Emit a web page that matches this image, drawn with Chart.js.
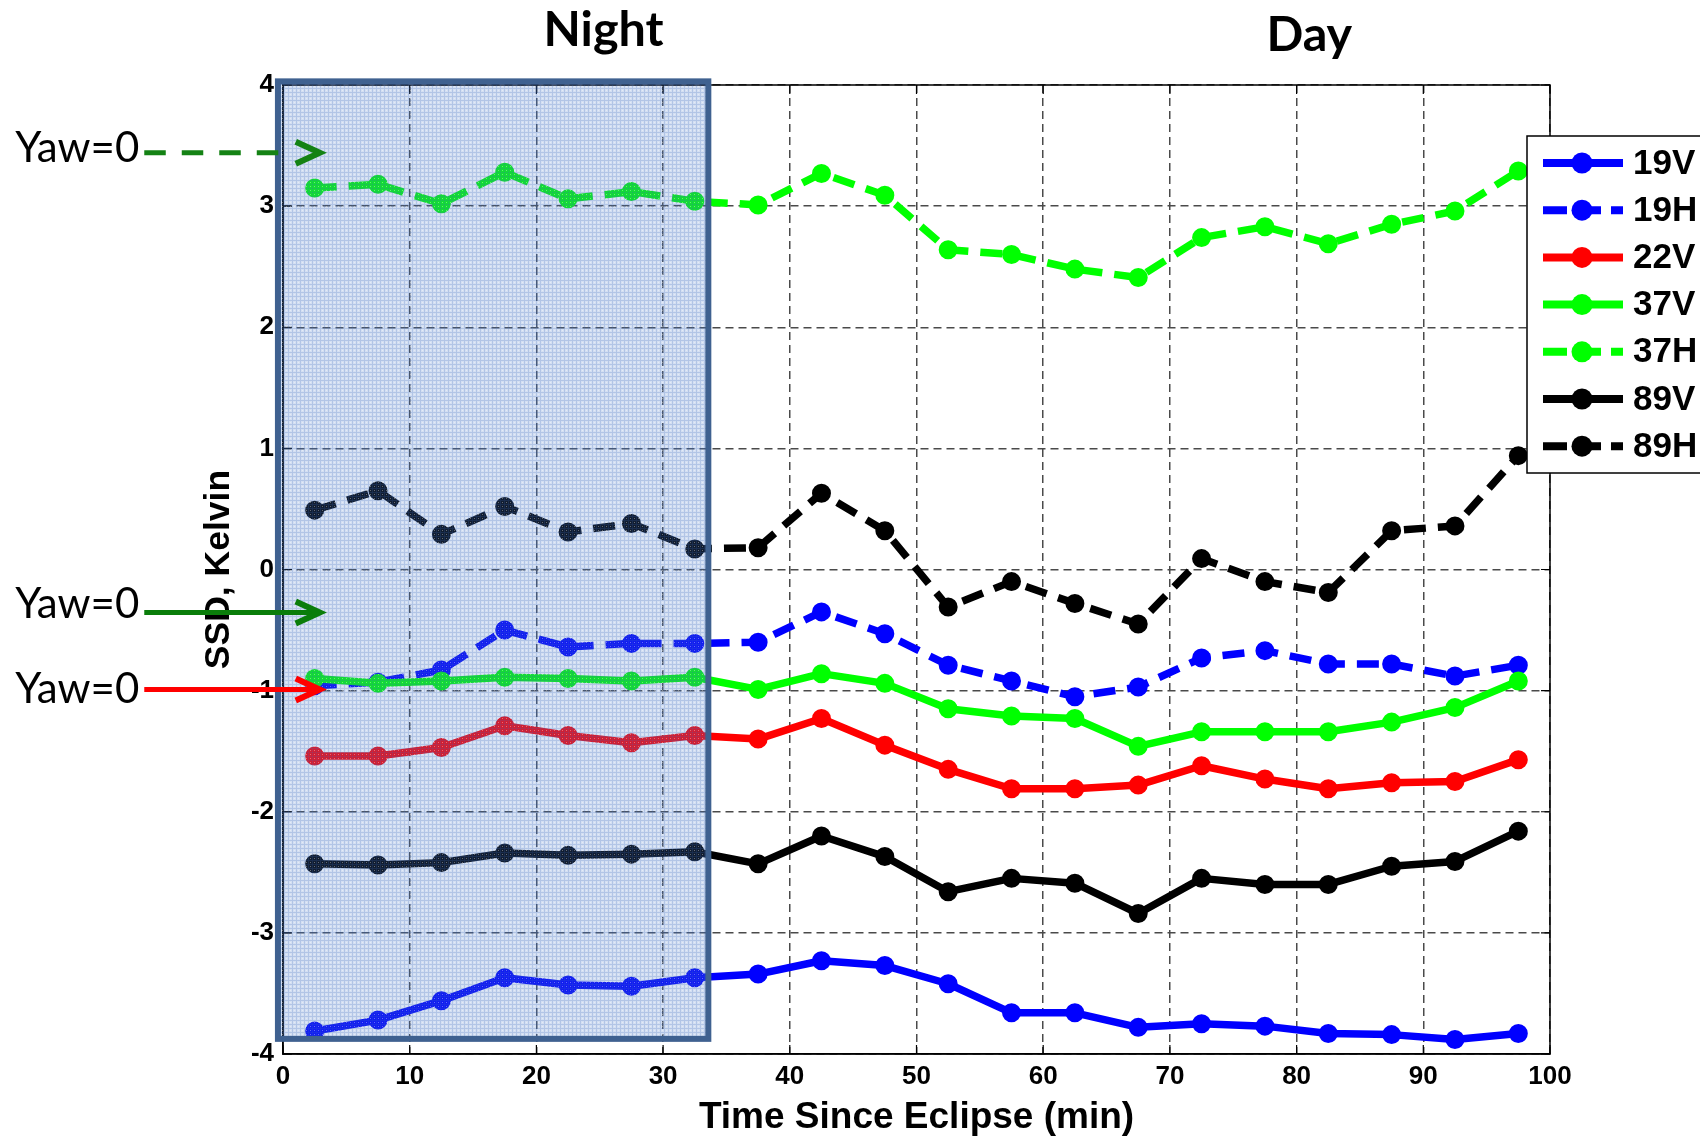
<!DOCTYPE html>
<html>
<head>
<meta charset="utf-8">
<script src="https://cdn.jsdelivr.net/npm/chart.js@4.4.1/dist/chart.umd.min.js"></script>
<style>
  html, body { margin: 0; padding: 0; background: #fff; }
  #wrap { width: 1700px; height: 1137px; position: relative; }
</style>
</head>
<body>
<div id="wrap"><canvas id="c" width="1700" height="1137"></canvas></div>
<script>
// Time since eclipse (min) at which each SSD sample is taken
const minutes = [2.5, 7.5, 12.5, 17.5, 22.5, 27.5, 32.5, 37.5, 42.5, 47.5,
                 52.5, 57.5, 62.5, 67.5, 72.5, 77.5, 82.5, 87.5, 92.5, 97.5];

// SSD per channel, Kelvin
const ssd19V = [-3.81, -3.72, -3.56, -3.37, -3.43, -3.44, -3.37, -3.34, -3.23, -3.27,
                -3.42, -3.66, -3.66, -3.78, -3.75, -3.77, -3.83, -3.84, -3.88, -3.83];
const ssd19H = [-0.96, -0.93, -0.83, -0.50, -0.64, -0.61, -0.61, -0.60, -0.35, -0.53,
                -0.79, -0.92, -1.05, -0.97, -0.73, -0.67, -0.78, -0.78, -0.88, -0.79];
const ssd22V = [-1.54, -1.54, -1.47, -1.29, -1.37, -1.43, -1.37, -1.40, -1.23, -1.45,
                -1.65, -1.81, -1.81, -1.78, -1.62, -1.73, -1.81, -1.76, -1.75, -1.57];
const ssd37V = [-0.90, -0.94, -0.92, -0.89, -0.90, -0.92, -0.89, -0.99, -0.86, -0.94,
                -1.15, -1.21, -1.23, -1.46, -1.34, -1.34, -1.34, -1.26, -1.14, -0.92];
const ssd37H = [3.15, 3.18, 3.02, 3.28, 3.06, 3.12, 3.04, 3.01, 3.27, 3.09,
                2.64, 2.60, 2.48, 2.41, 2.74, 2.83, 2.69, 2.85, 2.96, 3.29];
const ssd89V = [-2.43, -2.44, -2.42, -2.34, -2.36, -2.35, -2.33, -2.43, -2.20, -2.37,
                -2.66, -2.55, -2.59, -2.84, -2.55, -2.60, -2.60, -2.45, -2.41, -2.16];
const ssd89H = [0.49, 0.65, 0.29, 0.52, 0.31, 0.38, 0.17, 0.18, 0.63, 0.32,
                -0.31, -0.10, -0.28, -0.45, 0.09, -0.10, -0.19, 0.32, 0.36, 0.94];

const channelNames = ['19V', '19H', '22V', '37V', '37H', '89V', '89H'];
const channelValues = [ssd19V, ssd19H, ssd22V, ssd37V, ssd37H, ssd89V, ssd89H];

const xTitle = 'Time Since Eclipse (min)';
const yTitle = 'SSD, Kelvin';
const phaseLabels = ['Night', 'Day'];
const yawLabel = 'Yaw=0';

// styling per channel
const channelColors = ['#0000ff', '#0000ff', '#ff0000', '#00ff00', '#00ff00', '#000000', '#000000'];
const channelDashed = [false, true, false, false, true, false, true];

// shaded night band and annotation placement, in axis units
const nightBand = { xFrom: -0.4, xTo: 33.57, yFrom: -3.875, yTo: 4.03 };
const phasePos = [{ x: 25.3, py: 46 }, { x: 81.0, py: 51 }];
const yawMarks = [
  { y: 3.44,  ty: 3.48,  color: '#148214', dashed: true },
  { y: -0.355, ty: -0.29, color: '#0a7d0a', dashed: false },
  { y: -0.99, ty: -0.99, color: '#ff0000', dashed: false }
];

const DASH = [22, 12];
const tickFont = { family: '"Liberation Sans", Arial, sans-serif', size: 26, weight: 'bold' };

function makeHatch() {
  const c = document.createElement('canvas');
  c.width = 4; c.height = 4;
  const g = c.getContext('2d');
  g.fillStyle = 'rgba(70,120,200,0.24)';
  g.fillRect(0, 0, 4, 4);
  g.fillStyle = 'rgba(60,105,185,0.22)';
  g.fillRect(0, 0, 4, 1);
  g.fillRect(0, 1, 1, 3);
  g.fillStyle = 'rgba(255,255,255,0.35)';
  g.fillRect(2, 2, 1, 1);
  return c;
}

const datasets = channelNames.map((name, i) => ({
  label: name,
  data: minutes.map((m, k) => ({ x: m, y: channelValues[i][k] })),
  borderColor: channelColors[i],
  backgroundColor: channelColors[i],
  borderWidth: 7.5,
  borderDash: channelDashed[i] ? DASH : [],
  borderCapStyle: 'butt',
  borderJoinStyle: 'round',
  pointRadius: 8.5,
  pointBorderWidth: 2,
  pointBackgroundColor: channelColors[i],
  pointBorderColor: channelColors[i],
  fill: false,
  tension: 0,
  order: channelNames.length - i
}));

const decorations = {
  id: 'decorations',
  afterDatasetsDraw(chart) {
    const { ctx, chartArea: a, scales: { x, y } } = chart;
    ctx.save();
    // axes box
    ctx.setLineDash([]);
    ctx.strokeStyle = '#000';
    ctx.lineWidth = 1.5;
    ctx.strokeRect(a.left, a.top, a.right - a.left, a.bottom - a.top);
    // inward tick marks on all four sides
    ctx.lineWidth = 1.2;
    ctx.beginPath();
    for (let v = 0; v <= 100; v += 10) {
      const px = x.getPixelForValue(v);
      ctx.moveTo(px, a.bottom); ctx.lineTo(px, a.bottom - 9);
      ctx.moveTo(px, a.top); ctx.lineTo(px, a.top + 9);
    }
    for (let v = -4; v <= 4; v += 1) {
      const py = y.getPixelForValue(v);
      ctx.moveTo(a.left, py); ctx.lineTo(a.left + 9, py);
      ctx.moveTo(a.right, py); ctx.lineTo(a.right - 9, py);
    }
    ctx.stroke();

    // night band
    const L = x.getPixelForValue(nightBand.xFrom);
    const R = x.getPixelForValue(nightBand.xTo);
    const T = y.getPixelForValue(nightBand.yTo);
    const B = y.getPixelForValue(nightBand.yFrom);
    ctx.fillStyle = ctx.createPattern(makeHatch(), 'repeat');
    ctx.fillRect(L, T, R - L, B - T);
    ctx.strokeStyle = '#3f6190';
    ctx.lineWidth = 6;
    ctx.strokeRect(L, T, R - L, B - T);
    ctx.restore();
  },
  afterDraw(chart) {
    const { ctx, scales: { x, y } } = chart;
    ctx.save();

    // phase headings
    ctx.fillStyle = '#000';
    ctx.font = 'bold 48.5px Lato, "Open Sans", sans-serif';
    ctx.textAlign = 'center';
    ctx.textBaseline = 'alphabetic';
    phaseLabels.forEach((t, i) => {
      ctx.fillText(t, x.getPixelForValue(phasePos[i].x), phasePos[i].py);
    });

    // yaw markers with arrows
    const shaftStart = x.getPixelForValue(-10.95);
    const tip = x.getPixelForValue(2.9);
    yawMarks.forEach(m => {
      const py = y.getPixelForValue(m.y);
      const ty = y.getPixelForValue(m.ty);
      ctx.fillStyle = '#000';
      ctx.font = '42px Lato, "Open Sans", sans-serif';
      ctx.textAlign = 'right';
      ctx.textBaseline = 'middle';
      ctx.fillText(yawLabel, shaftStart - 5, ty);

      ctx.strokeStyle = m.color;
      ctx.lineWidth = 5;
      ctx.lineCap = 'butt';
      ctx.setLineDash(m.dashed ? [21.5, 16] : []);
      ctx.beginPath();
      ctx.moveTo(shaftStart, py);
      ctx.lineTo(m.dashed ? tip - 32 : tip - 3, py);
      ctx.stroke();
      ctx.setLineDash([]);
      ctx.lineJoin = 'miter';
      ctx.lineWidth = 6;
      ctx.beginPath();
      ctx.moveTo(tip - 24, py - 11);
      ctx.lineTo(tip, py);
      ctx.lineTo(tip - 24, py + 11);
      ctx.stroke();
    });

    // legend box
    const lg = { left: 1527, top: 136, right: 1720, bottom: 473 };
    ctx.setLineDash([]);
    ctx.fillStyle = '#fff';
    ctx.fillRect(lg.left, lg.top, lg.right - lg.left, lg.bottom - lg.top);
    ctx.strokeStyle = '#000';
    ctx.lineWidth = 1.5;
    ctx.strokeRect(lg.left, lg.top, lg.right - lg.left, lg.bottom - lg.top);
    chart.data.datasets.forEach((ds, i) => {
      const ry = 163 + i * 47.2;
      ctx.strokeStyle = ds.borderColor;
      ctx.lineWidth = 8;
      ctx.lineCap = 'butt';
      ctx.setLineDash(ds.borderDash.length ? [24, 10] : []);
      ctx.beginPath();
      ctx.moveTo(1543, ry);
      ctx.lineTo(1623, ry);
      ctx.stroke();
      ctx.setLineDash([]);
      ctx.fillStyle = ds.borderColor;
      ctx.beginPath();
      ctx.arc(1582, ry, 10.5, 0, Math.PI * 2);
      ctx.fill();
      ctx.fillStyle = '#000';
      ctx.font = 'bold 35px "Liberation Sans", Arial, sans-serif';
      ctx.textAlign = 'left';
      ctx.textBaseline = 'middle';
      ctx.fillText(ds.label, 1633, ry + 1);
    });
    ctx.restore();
  }
};

new Chart(document.getElementById('c'), {
  type: 'line',
  data: { datasets },
  options: {
    responsive: false,
    animation: false,
    devicePixelRatio: 1,
    layout: { padding: { left: 0, right: 150, top: 85, bottom: 0 } },
    plugins: { legend: { display: false }, tooltip: { enabled: false } },
    scales: {
      x: {
        type: 'linear', min: 0, max: 100,
        afterFit(s) { s.height = 83; },
        ticks: { stepSize: 10, padding: 7, color: '#000', font: tickFont, maxRotation: 0, autoSkip: false },
        grid: { color: '#4a4a4a', lineWidth: 1.5, drawTicks: false },
        border: { display: true, color: '#000', width: 1.5, dash: [8, 5] },
        title: {
          display: true, text: xTitle, color: '#000',
          font: { family: '"Liberation Sans", Arial, sans-serif', size: 37, weight: 'bold' },
          padding: { top: 0, bottom: -3 }
        }
      },
      y: {
        type: 'linear', min: -4, max: 4,
        afterFit(s) { s.width = 283; },
        ticks: { stepSize: 1, padding: 9, color: '#000', font: tickFont },
        grid: { color: '#4a4a4a', lineWidth: 1.5, drawTicks: false },
        border: { display: true, color: '#000', width: 1.5, dash: [8, 5] },
        title: {
          display: true, text: yTitle, color: '#000',
          font: { family: '"Liberation Sans", Arial, sans-serif', size: 35.5, weight: 'bold' },
          padding: { top: 198, bottom: 0 }
        }
      }
    }
  },
  plugins: [decorations]
});
</script>
</body>
</html>
